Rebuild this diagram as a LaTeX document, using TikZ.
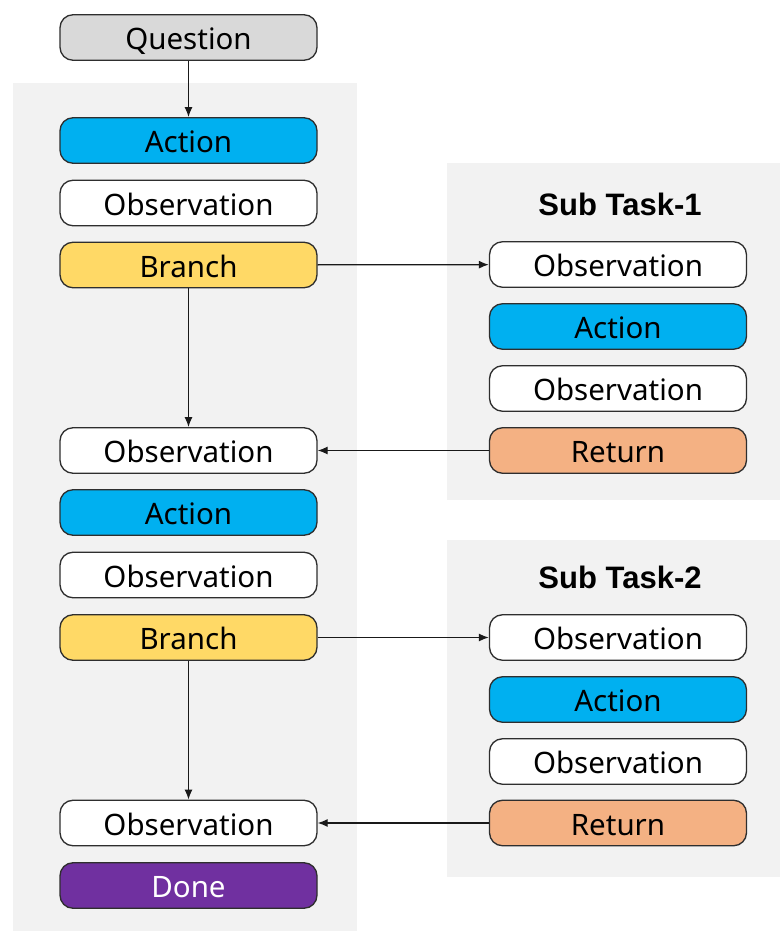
\documentclass[tikz,border=0pt]{standalone}
\usepackage{fontspec}
\setmainfont{Noto Sans}
\newfontfamily\titlefont{Liberation Sans}
\usetikzlibrary{arrows.meta}
\definecolor{panelbg}{HTML}{F2F2F2}
\definecolor{qgray}{HTML}{D9D9D9}
\definecolor{actblue}{HTML}{00B0F0}
\definecolor{bryellow}{HTML}{FFD966}
\definecolor{retorange}{HTML}{F4B183}
\definecolor{donepurple}{HTML}{7030A0}
\definecolor{edgegray}{HTML}{2E2E2E}
\tikzset{
  box/.style={draw=edgegray, line width=1.35pt, rounded corners=13pt,
    minimum width=257pt, minimum height=45.5pt, inner sep=0pt,
    text height=24pt, text depth=0pt,
    font=\fontsize{29.5}{32}\selectfont, text=black},
  qbox/.style={box, fill=qgray},
  actbox/.style={box, fill=actblue},
  obsbox/.style={box, fill=white},
  brbox/.style={box, fill=bryellow},
  retbox/.style={box, fill=retorange},
  donebox/.style={box, fill=donepurple, text=white},
  panel/.style={fill=panelbg, draw=none},
  conn/.style={-{Latex[length=10pt,width=8pt]}, line width=1.3pt, draw=black!90},
  title/.style={font=\titlefont\bfseries\fontsize{31}{34}\selectfont}
}
\begin{document}
\begin{tikzpicture}[x=1pt,y=-1pt]
\useasboundingbox (0,0) rectangle (780,933);
\fill[white] (0,0) rectangle (780,933);
% panels
\fill[panel] (13,83) rectangle (357,931);
\fill[panel] (447,163) rectangle (780,500);
\fill[panel] (447,540) rectangle (780,877);
% left column
\node[qbox] (q) at (188.5,37.5) {Question};
\node[actbox] (a1) at (188.5,140.5) {Action};
\node[obsbox] (o1) at (188.5,203) {Observation};
\node[brbox] (b1) at (188.5,265) {Branch};
\node[obsbox] (o2) at (188.5,450.5) {Observation};
\node[actbox] (a2) at (188.5,512.5) {Action};
\node[obsbox] (o3) at (188.5,575) {Observation};
\node[brbox] (b2) at (188.5,637.5) {Branch};
\node[obsbox] (o4) at (188.5,823) {Observation};
\node[donebox] (d) at (188.5,885.5) {Done};
% sub task 1
\node[title] (t1) at (620,204) {Sub Task-1};
\node[obsbox] (s1o1) at (618,264.5) {Observation};
\node[actbox] (s1a) at (618,326.5) {Action};
\node[obsbox] (s1o2) at (618,388.5) {Observation};
\node[retbox] (s1r) at (618,450.5) {Return};
% sub task 2
\node[title] (t2) at (620,577) {Sub Task-2};
\node[obsbox] (s2o1) at (618,637.5) {Observation};
\node[actbox] (s2a) at (618,699.5) {Action};
\node[obsbox] (s2o2) at (618,761.5) {Observation};
\node[retbox] (s2r) at (618,823) {Return};
% connectors
\draw[conn] (q) -- (a1);
\draw[conn] (b1) -- (o2);
\draw[conn] (b1) -- (s1o1);
\draw[conn] (s1r) -- (o2);
\draw[conn] (b2) -- (o4);
\draw[conn] (b2) -- (s2o1);
\draw[conn] (s2r) -- (o4);
\end{tikzpicture}
\end{document}
